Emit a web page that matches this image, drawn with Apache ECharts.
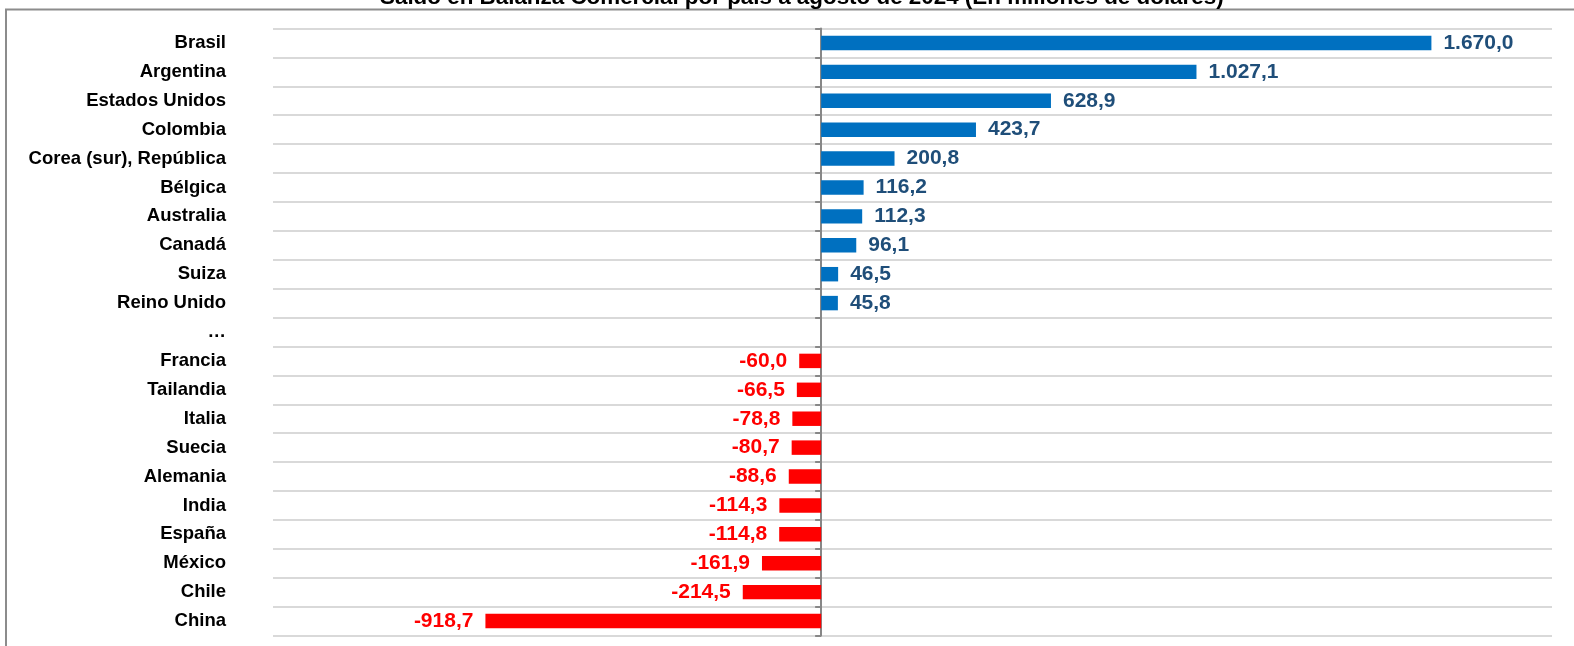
<!DOCTYPE html>
<html>
<head>
<meta charset="utf-8">
<script src="https://cdn.jsdelivr.net/npm/echarts@6/dist/echarts.min.js"></script>
<style>
  html, body { margin: 0; padding: 0; background: #fff; }
  #chart { width: 1574px; height: 646px; }
</style>
</head>
<body>
<div id="chart"></div>
<script>
// Saldo en balanza comercial (millones de dólares)
const paises = ['Brasil', 'Argentina', 'Estados Unidos', 'Colombia', 'Corea (sur), República',
  'Bélgica', 'Australia', 'Canadá', 'Suiza', 'Reino Unido', '…',
  'Francia', 'Tailandia', 'Italia', 'Suecia', 'Alemania', 'India', 'España', 'México', 'Chile', 'China'];
const saldo = [1670.0, 1027.1, 628.9, 423.7, 200.8, 116.2, 112.3, 96.1, 46.5, 45.8, null,
  -60.0, -66.5, -78.8, -80.7, -88.6, -114.3, -114.8, -161.9, -214.5, -918.7];

const FONT = '"Liberation Sans", Arial, sans-serif';

// 1.670,0 style
function fmt(v) {
  const parts = Math.abs(v).toFixed(1).split('.');
  const ent = parts[0].replace(/\B(?=(\d{3})+(?!\d))/g, '.');
  return (v < 0 ? '-' : '') + ent + ',' + parts[1];
}

const barData = saldo.map(function (v) {
  if (v === null) return '-';
  const neg = v < 0;
  return {
    value: v,
    itemStyle: { color: neg ? '#ff0000' : '#0070c0' },
    label: {
      position: neg ? 'left' : 'right',
      color: neg ? '#ff0000' : '#1f4e79'
    }
  };
});

const chart = echarts.init(document.getElementById('chart'));
chart.setOption({
  animation: false,
  title: {
    text: 'Saldo en Balanza Comercial por país a agosto de 2024 (En millones de dólares)',
    left: 375,
    top: -18,
    textStyle: { fontFamily: FONT, fontSize: 22.4, fontWeight: 'bold', color: '#000' }
  },
  graphic: [{
    type: 'rect',
    shape: { x: 6, y: 9.5, width: 1700, height: 800 },
    style: { fill: 'none', stroke: '#8c8c8c', lineWidth: 2 },
    silent: true,
    z: -1
  }],
  grid: { left: 273, right: 22, top: 28.5, bottom: 10.5 },
  xAxis: {
    type: 'value',
    min: -1500,
    max: 2000,
    show: false,
    splitLine: { show: false }
  },
  yAxis: [
    {
      // etiquetas a la izquierda + líneas de fondo
      type: 'category',
      data: paises,
      inverse: true,
      position: 'left',
      axisLine: { show: false, onZero: false },
      axisTick: { show: false },
      axisLabel: {
        margin: 47,
        fontFamily: FONT,
        fontSize: 18.5,
        fontWeight: 'bold',
        color: '#000'
      },
      splitLine: { show: true, lineStyle: { color: '#d9d9d9', width: 2 } }
    },
    {
      // eje en el cero
      type: 'category',
      data: paises,
      inverse: true,
      position: 'left',
      axisLine: { show: true, onZero: true, lineStyle: { color: '#878787', width: 2 } },
      axisTick: { show: true, length: 6, lineStyle: { color: '#878787', width: 2 } },
      axisLabel: { show: false },
      splitLine: { show: false }
    }
  ],
  series: [{
    type: 'bar',
    yAxisIndex: 0,
    barWidth: '50%',
    data: barData,
    label: {
      show: true,
      distance: 12,
      fontFamily: FONT,
      fontSize: 21,
      fontWeight: 'bold',
      formatter: function (p) { return fmt(p.value); }
    }
  }]
});
</script>
</body>
</html>
